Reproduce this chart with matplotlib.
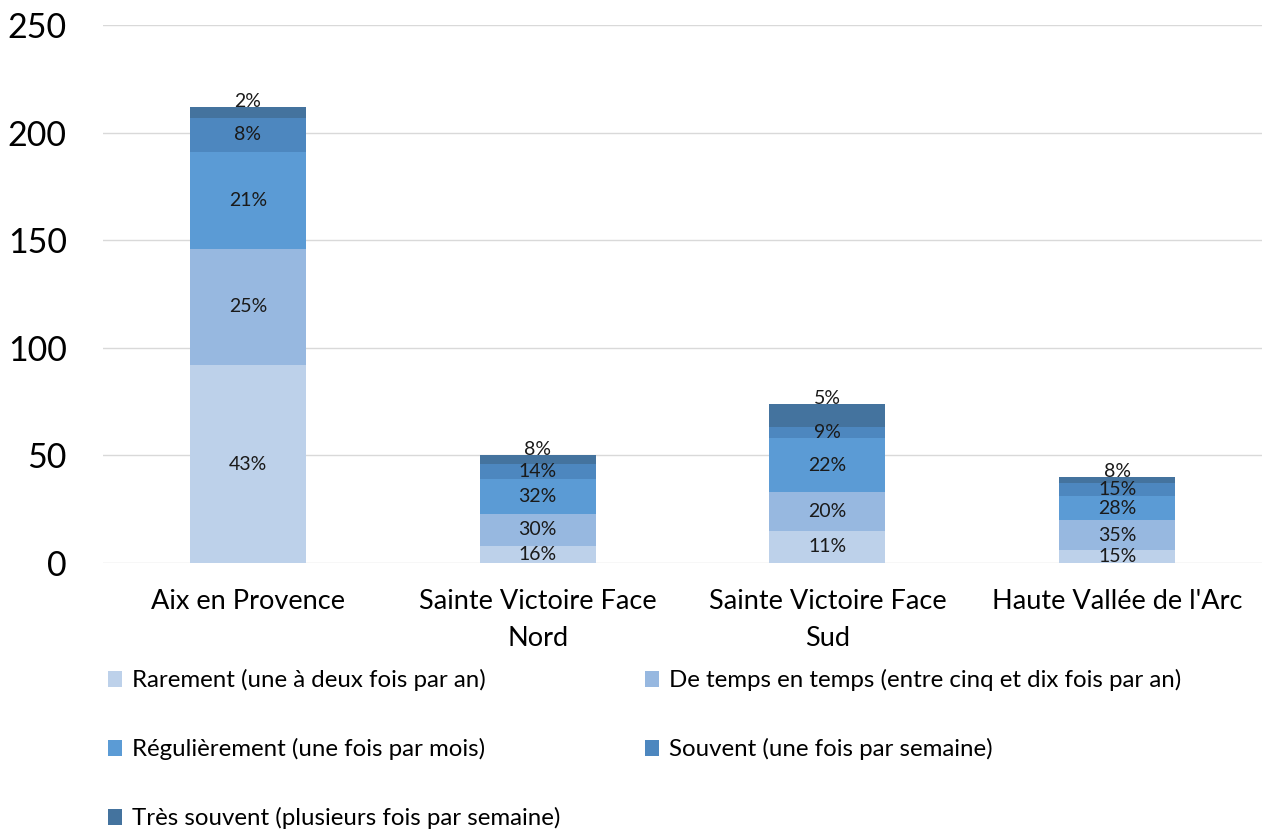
import matplotlib
matplotlib.use("Agg")
import matplotlib.pyplot as plt
import numpy as np

plt.rcParams['font.family'] = ['Lato', 'DejaVu Sans']

categories = ["Aix en Provence", "Sainte Victoire Face\nNord", "Sainte Victoire Face\nSud", "Haute Vallée de l'Arc"]
series_names = [
    "Rarement (une à deux fois par an)",
    "De temps en temps (entre cinq et dix fois par an)",
    "Régulièrement (une fois par mois)",
    "Souvent (une fois par semaine)",
    "Très souvent (plusieurs fois par semaine)",
]
rarement = [92, 8, 15, 6]
de_temps = [54, 15, 18, 14]
regulierement = [45, 16, 25, 11]
souvent = [16, 7, 5, 6]
tres_souvent = [5, 4, 11, 3]

lbl_rarement = ["43%", "16%", "11%", "15%"]
lbl_de_temps = ["25%", "30%", "20%", "35%"]
lbl_regulierement = ["21%", "32%", "22%", "28%"]
lbl_souvent = ["8%", "14%", "9%", "15%"]
lbl_tres_souvent = ["2%", "8%", "5%", "8%"]

colors = ["#BDD1EA", "#97B8E0", "#5B9BD5", "#4D87BF", "#44739E"]

values = [rarement, de_temps, regulierement, souvent, tres_souvent]
labels = [lbl_rarement, lbl_de_temps, lbl_regulierement, lbl_souvent, lbl_tres_souvent]

fig = plt.figure(figsize=(12.62, 8.32), dpi=100)
ax = fig.add_axes([0.0816, 0.3233, 0.9184, 0.6467])

x = np.arange(len(categories))
bottom = np.zeros(len(categories))
handles = []
for i, (vals, name, col) in enumerate(zip(values, series_names, colors)):
    vals = np.array(vals, dtype=float)
    b = ax.bar(x, vals, 0.4, bottom=bottom, color=col, label=name, zorder=3)
    handles.append(b)
    for j in range(len(categories)):
        if i == len(values) - 1:
            ax.annotate(labels[i][j], (x[j], bottom[j] + vals[j]), xytext=(0, 4),
                        textcoords='offset points', ha='center', va='center',
                        fontsize=14, color='#1a1a1a', zorder=4)
        else:
            ax.text(x[j], bottom[j] + vals[j] / 2, labels[i][j], ha='center', va='center',
                    fontsize=14, color='#1a1a1a', zorder=4)
    bottom += vals

ax.set_xlim(-0.5, 3.5)
ax.set_ylim(0, 250)
ax.set_yticks([0, 50, 100, 150, 200, 250])
ax.grid(axis='y', color='#D9D9D9', linewidth=1, zorder=0)
ax.set_axisbelow(True)
for s in ax.spines.values():
    s.set_visible(False)
ax.tick_params(axis='both', length=0)
ax.tick_params(axis='y', labelsize=24.5, pad=26)
ax.tick_params(axis='x', labelsize=19.5, pad=19)
ax.set_xticks(x)
ax.set_xticklabels(categories, linespacing=1.6)

order = [0, 2, 4, 1, 3]
leg = fig.legend([handles[k] for k in order], [series_names[k] for k in order],
                 loc='upper left', bbox_to_anchor=(0.078, 0.207), ncol=2, frameon=False,
                 fontsize=17.3, labelspacing=1.95, columnspacing=3.5, handlelength=0.6,
                 handleheight=0.6, handletextpad=0.4, borderaxespad=0)

fig.savefig("out.png", dpi=100)
